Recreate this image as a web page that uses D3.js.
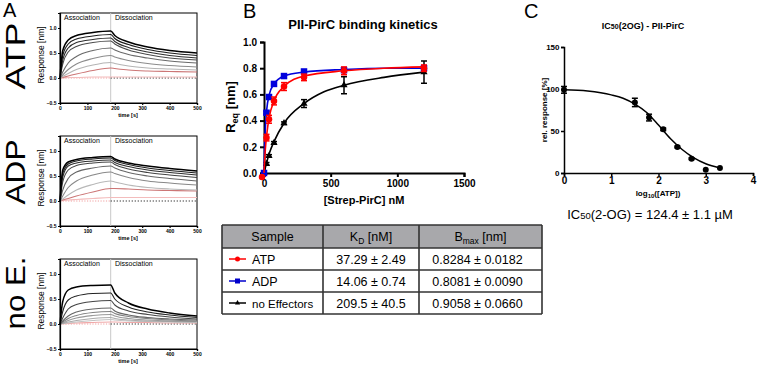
<!DOCTYPE html>
<html><head><meta charset="utf-8">
<script src="https://cdn.jsdelivr.net/npm/d3@7"></script>
<style>body{margin:0;background:#fff} svg text{font-family:"Liberation Sans",Arial,sans-serif}</style>
</head><body><svg id="c" width="757" height="365"></svg>
<script>
// ---------- DATA ----------
// Panel A: sensorgrams (response in nm at the sampled times)
const timesA = [0, 10, 30, 60, 120, 185, 200, 250, 320, 400, 500];
const atpCurves = [
  [0, 0.55, 0.76, 0.85, 0.91, 0.94, 0.85, 0.72, 0.62, 0.55, 0.50],
  [0, 0.45, 0.68, 0.78, 0.84, 0.87, 0.79, 0.67, 0.57, 0.50, 0.45],
  [0, 0.35, 0.60, 0.71, 0.77, 0.80, 0.73, 0.61, 0.52, 0.45, 0.40],
  [0, 0.28, 0.52, 0.63, 0.71, 0.74, 0.68, 0.56, 0.47, 0.40, 0.36],
  [0, 0.12, 0.30, 0.43, 0.55, 0.60, 0.56, 0.47, 0.40, 0.34, 0.30],
  [0, 0.06, 0.17, 0.28, 0.39, 0.45, 0.42, 0.35, 0.29, 0.25, 0.22],
  [0, 0.03, 0.09, 0.17, 0.26, 0.31, 0.29, 0.24, 0.20, 0.18, 0.16],
  [0, 0.01, 0.04, 0.08, 0.15, 0.20, 0.19, 0.16, 0.14, 0.13, 0.12],
  [0, 0.00, 0.01, 0.01, 0.02, 0.02, 0.02, 0.02, 0.02, 0.02, 0.02]
];
const adpCurves = [
  [0, 0.62, 0.78, 0.83, 0.87, 0.89, 0.84, 0.76, 0.70, 0.65, 0.60],
  [0, 0.55, 0.74, 0.80, 0.84, 0.86, 0.81, 0.73, 0.66, 0.61, 0.56],
  [0, 0.48, 0.70, 0.76, 0.80, 0.82, 0.77, 0.69, 0.62, 0.57, 0.52],
  [0, 0.38, 0.62, 0.71, 0.76, 0.78, 0.73, 0.64, 0.57, 0.52, 0.47],
  [0, 0.22, 0.45, 0.58, 0.66, 0.70, 0.66, 0.57, 0.50, 0.45, 0.40],
  [0, 0.10, 0.27, 0.40, 0.52, 0.58, 0.55, 0.47, 0.40, 0.36, 0.32],
  [0, 0.04, 0.12, 0.22, 0.33, 0.40, 0.38, 0.32, 0.27, 0.24, 0.22],
  [0, 0.02, 0.05, 0.10, 0.18, 0.25, 0.25, 0.24, 0.22, 0.21, 0.20],
  [0, 0.01, 0.02, 0.03, 0.05, 0.07, 0.07, 0.07, 0.07, 0.07, 0.07]
];
const noeCurves = [
  [0, 0.45, 0.68, 0.74, 0.77, 0.78, 0.62, 0.42, 0.30, 0.22, 0.16],
  [0, 0.25, 0.48, 0.56, 0.61, 0.62, 0.50, 0.34, 0.24, 0.18, 0.13],
  [0, 0.12, 0.30, 0.39, 0.45, 0.47, 0.38, 0.26, 0.19, 0.14, 0.10],
  [0, 0.06, 0.16, 0.24, 0.30, 0.32, 0.26, 0.18, 0.13, 0.10, 0.08],
  [0, 0.04, 0.11, 0.17, 0.23, 0.25, 0.21, 0.15, 0.11, 0.08, 0.06],
  [0, 0.02, 0.07, 0.12, 0.17, 0.19, 0.16, 0.11, 0.08, 0.06, 0.05],
  [0, 0.01, 0.04, 0.07, 0.11, 0.13, 0.11, 0.08, 0.06, 0.05, 0.04],
  [0, 0.01, 0.02, 0.04, 0.07, 0.09, 0.08, 0.06, 0.05, 0.04, 0.03],
  [0, 0.005, 0.01, 0.02, 0.03, 0.04, 0.04, 0.03, 0.03, 0.02, 0.02]
];
const atpColors = ["#000", "#1c1c1c", "#2e2e2e", "#4a4a4a", "#6a6a6a", "#8c8c8c", "#b4b4b4", "#cc7676", "#f3bcbc"];
const adpColors = ["#000", "#1c1c1c", "#2e2e2e", "#444", "#666", "#888", "#b8b8b8", "#cc7676", "#f3bcbc"];
const noeColors = ["#000", "#222", "#444", "#666", "#808080", "#999", "#aaa", "#c4c4c4", "#f0a8a8"];
const sensorLabels = ["ATP", "ADP", "no E."];
const sensorTicksX = [0, 100, 200, 300, 400, 500];
const sensorTicksY = [-0.5, 0.0, 0.5, 1.0];

// Panel B: equilibrium response
const concB = [0, 18.75, 37.5, 75, 150, 300, 600, 1200];
const adpReq = [0, 0.46, 0.58, 0.68, 0.74, 0.775, 0.785, 0.80];
const adpErr = [0, 0.01, 0.015, 0.015, 0.015, 0.012, 0.015, 0.02];
const atpReq = [-0.03, 0.27, 0.41, 0.55, 0.66, 0.73, 0.78, 0.80];
const atpErr = [0, 0.025, 0.03, 0.03, 0.03, 0.025, 0.03, 0.025];
const noeReq = [0, 0.07, 0.13, 0.23, 0.38, 0.53, 0.67, 0.77];
const noeErr = [0, 0.01, 0.01, 0.01, 0.01, 0.03, 0.065, 0.085];
// fitted curves
const fitAdpX = [0, 5, 10, 20, 40, 75, 150, 300, 600, 900, 1200];
const fitAdpY = [0, 0.21, 0.34, 0.48, 0.60, 0.68, 0.74, 0.77, 0.79, 0.80, 0.80];
const fitAtpX = [0, 5, 10, 20, 40, 75, 150, 300, 600, 900, 1200];
const fitAtpY = [0, 0.10, 0.18, 0.29, 0.43, 0.55, 0.66, 0.74, 0.78, 0.80, 0.81];
const fitNoeX = [0, 20, 40, 75, 150, 300, 450, 600, 900, 1200];
const fitNoeY = [0, 0.08, 0.15, 0.24, 0.38, 0.53, 0.62, 0.67, 0.73, 0.77];
const ticksBX = [0, 500, 1000, 1500];
const ticksBY = [0, 0.2, 0.4, 0.6, 0.8, 1.0];

// Table
const tableSamples = ["ATP", "ADP", "no Effectors"];
const tableKd = ["37.29 ± 2.49", "14.06 ± 0.74", "209.5 ± 40.5"];
const tableBmax = ["0.8284 ± 0.0182", "0.8081 ± 0.0090", "0.9058 ± 0.0660"];
const tableColors = ["#ff0000", "#0000cc", "#000000"];
const tableMarkers = ["circle", "square", "triangle"];

// Panel C: IC50
const logATP = [0, 1.5, 1.8, 2.1, 2.4, 2.7, 3.0, 3.3];
const relResp = [99, 84, 66, 52, 31, 17, 4, 6];
const relErr = [4, 5, 4, 1.5, 1, 1, 0, 0];
const fitCX = [0, 0.5, 1.0, 1.25, 1.5, 1.75, 2.0, 2.25, 2.5, 2.75, 3.0, 3.3];
const fitCY = [99, 97.5, 93, 89, 82, 72, 57, 41, 28, 18, 11, 6];
const ticksCX = [0, 1, 2, 3, 4];
const ticksCY = [0, 50, 100, 150];

// ---------- DRAW ----------
const svg = d3.select("#c");
svg.append("rect").attr("width", 757).attr("height", 365).attr("fill", "#fff");

function txt(x, y, s, size, opts = {}) {
  const t = svg.append("text").attr("x", x).attr("y", y).attr("font-size", size)
    .attr("text-anchor", opts.anchor || "start").attr("fill", opts.fill || "#000")
    .attr("font-weight", opts.bold ? "bold" : "normal").text(s);
  if (opts.rotate) t.attr("transform", `rotate(-90,${x},${y})`);
  return t;
}

// Panel letters
txt(3, 17, "A", 20);
txt(243, 18, "B", 20);
txt(524, 18, "C", 20);

// ---- Panel A ----
const sensorSets = [atpCurves, adpCurves, noeCurves];
const sensorColors = [atpColors, adpColors, noeColors];
const labelCenters = [56, 172, 293];
const labelLens = [67, 65, 73];
sensorSets.forEach((curves, k) => {
  const off = k * 123;
  const x = d3.scaleLinear().domain([0, 500]).range([60, 197]);
  const y = d3.scaleLinear().domain([-0.5, 1.3]).range([103 + off, 13 + off]);
  const g = svg.append("g");
  g.append("text").attr("x", 25).attr("y", labelCenters[k]).attr("font-size", 28)
    .attr("text-anchor", "middle").attr("textLength", labelLens[k]).attr("lengthAdjust", "spacingAndGlyphs")
    .attr("transform", `rotate(-90,25,${labelCenters[k]})`).text(sensorLabels[k]);
  g.append("rect").attr("x", x(0)).attr("y", y(1.3)).attr("width", x(500) - x(0)).attr("height", y(-0.5) - y(1.3))
    .attr("fill", "none").attr("stroke", "#000").attr("stroke-width", 1);
  g.append("line").attr("x1", x(185)).attr("x2", x(185)).attr("y1", y(1.3)).attr("y2", y(-0.5))
    .attr("stroke", "#c8c8c8").attr("stroke-width", 1);
  g.append("line").attr("x1", x(0)).attr("x2", x(185)).attr("y1", y(0)).attr("y2", y(0))
    .attr("stroke", "#f0a0a0").attr("stroke-width", 1).attr("stroke-dasharray", "1.2,1.5");
  g.append("line").attr("x1", x(185)).attr("x2", x(500)).attr("y1", y(0)).attr("y2", y(0))
    .attr("stroke", "#222").attr("stroke-width", 1).attr("stroke-dasharray", "1.2,1.8");
  const line = d3.line().x((d, i) => x(timesA[i])).y(d => y(d)).curve(d3.curveMonotoneX);
  curves.slice().reverse().forEach((c, ri) => {
    const i = curves.length - 1 - ri;
    g.append("path").attr("d", line(c)).attr("fill", "none")
      .attr("stroke", sensorColors[k][i]).attr("stroke-width", i === 0 ? 1.5 : 1.1);
  });
  const ax = g.append("g").attr("transform", `translate(0,${y(-0.5)})`)
    .call(d3.axisBottom(x).tickValues(sensorTicksX).tickSize(2).tickPadding(1.5));
  const ay = g.append("g").attr("transform", `translate(${x(0)},0)`)
    .call(d3.axisLeft(y).tickValues(sensorTicksY).tickFormat(d3.format(".1f")).tickSize(2).tickPadding(1.5));
  [ax, ay].forEach(a => {
    a.selectAll("text").attr("font-size", 5).attr("font-weight", "bold").attr("font-family", '"Liberation Sans",Arial,sans-serif');
    a.selectAll("path,line").attr("stroke", "#000").attr("stroke-width", 1.2);
  });
  g.append("text").attr("x", 128).attr("y", 117 + off).attr("font-size", 5.5).attr("font-weight", "bold")
    .attr("text-anchor", "middle").text("time [s]");
  g.append("text").attr("x", 44).attr("y", 55 + off).attr("font-size", 8.5).attr("text-anchor", "middle")
    .attr("transform", `rotate(-90,44,${55 + off})`).text("Response [nm]");
  g.append("text").attr("x", 64).attr("y", 20 + off).attr("font-size", 7).text("Association");
  g.append("text").attr("x", 115).attr("y", 20 + off).attr("font-size", 7).text("Dissociation");
});

// ---- Panel B ----
const xB = d3.scaleLinear().domain([0, 1500]).range([264, 464]);
const yB = d3.scaleLinear().domain([0, 1]).range([173, 42]);
txt(363, 29, "PII-PirC binding kinetics", 13, { anchor: "middle", bold: true });
const axB = svg.append("g").attr("transform", `translate(0,${yB(0)})`)
  .call(d3.axisBottom(xB).tickValues(ticksBX).tickFormat(d3.format("d")).tickSize(4).tickPadding(3));
const ayB = svg.append("g").attr("transform", `translate(${xB(0)},0)`)
  .call(d3.axisLeft(yB).tickValues(ticksBY).tickFormat(d3.format(".1f")).tickSize(4).tickPadding(3));
[axB, ayB].forEach(a => {
  a.selectAll("text").attr("font-size", 10).attr("font-weight", "bold").attr("font-family", '"Liberation Sans",Arial,sans-serif');
  a.selectAll("path,line").attr("stroke", "#000").attr("stroke-width", 2);
});
txt(364, 204, "[Strep-PirC] nM", 11, { anchor: "middle", bold: true });
{
  const t = svg.append("text").attr("x", 235).attr("y", 107).attr("font-size", 13).attr("font-weight", "bold")
    .attr("text-anchor", "middle").attr("transform", "rotate(-90,235,107)");
  t.append("tspan").text("R");
  t.append("tspan").attr("font-size", 9).attr("dy", 3).text("eq");
  t.append("tspan").attr("dy", -3).text(" [nm]");
}
function fitLine(xs, ys, color) {
  const l = d3.line().x((d, i) => xB(xs[i])).y(d => yB(d)).curve(d3.curveMonotoneX);
  svg.append("path").attr("d", l(ys)).attr("fill", "none").attr("stroke", color).attr("stroke-width", 1.6);
}
function errBars(vals, errs, color) {
  vals.forEach((v, i) => {
    if (!errs[i]) return;
    const cx = xB(concB[i]);
    const y1 = yB(v + errs[i]), y2 = yB(v - errs[i]);
    svg.append("line").attr("x1", cx).attr("x2", cx).attr("y1", y1).attr("y2", y2).attr("stroke", color).attr("stroke-width", 1.5);
    [y1, y2].forEach(yy => svg.append("line").attr("x1", cx - 3).attr("x2", cx + 3).attr("y1", yy).attr("y2", yy)
      .attr("stroke", color).attr("stroke-width", 1.5));
  });
}
function marker(g, type, cx, cy, color, s) {
  if (type === "circle") g.append("circle").attr("cx", cx).attr("cy", cy).attr("r", s / 2).attr("fill", color);
  else if (type === "square") g.append("rect").attr("x", cx - s / 2).attr("y", cy - s / 2).attr("width", s).attr("height", s).attr("fill", color);
  else g.append("path").attr("d", d3.symbol(d3.symbolTriangle, s * s * 0.45)()).attr("transform", `translate(${cx},${cy})`).attr("fill", color);
}
fitLine(fitNoeX, fitNoeY, "#000");
errBars(noeReq, noeErr, "#000");
noeReq.forEach((v, i) => marker(svg, "triangle", xB(concB[i]), yB(v), "#000", 7));
fitLine(fitAdpX, fitAdpY, "#0000dd");
errBars(adpReq, adpErr, "#0000dd");
adpReq.forEach((v, i) => marker(svg, "square", xB(concB[i]), yB(v), "#0000dd", 6.5));
fitLine(fitAtpX, fitAtpY, "#ff0000");
errBars(atpReq, atpErr, "#ff0000");
atpReq.forEach((v, i) => marker(svg, "circle", xB(concB[i]) - (i === 0 ? 2 : 0), yB(v), "#ff0000", 6.5));

// ---- Table ----
const colX = [222, 323, 419, 542];
const rowY = [225, 248, 270, 292, 314];
svg.append("rect").attr("x", colX[0]).attr("y", rowY[0]).attr("width", colX[3] - colX[0]).attr("height", rowY[1] - rowY[0]).attr("fill", "#a8a8ab");
rowY.forEach(yy => svg.append("line").attr("x1", colX[0]).attr("x2", colX[3]).attr("y1", yy).attr("y2", yy).attr("stroke", "#333").attr("stroke-width", 1.6));
colX.forEach(xx => svg.append("line").attr("x1", xx).attr("x2", xx).attr("y1", rowY[0]).attr("y2", rowY[4]).attr("stroke", "#333").attr("stroke-width", 1.6));
txt((colX[0] + colX[1]) / 2, 241, "Sample", 12.5, { anchor: "middle" });
{
  const t = svg.append("text").attr("x", (colX[1] + colX[2]) / 2).attr("y", 241).attr("font-size", 12.5).attr("text-anchor", "middle");
  t.append("tspan").text("K");
  t.append("tspan").attr("font-size", 8.5).attr("dy", 3).text("D");
  t.append("tspan").attr("dy", -3).text(" [nM]");
  const t2 = svg.append("text").attr("x", (colX[2] + colX[3]) / 2).attr("y", 241).attr("font-size", 12.5).attr("text-anchor", "middle");
  t2.append("tspan").text("B");
  t2.append("tspan").attr("font-size", 8.5).attr("dy", 3).text("max");
  t2.append("tspan").attr("dy", -3).text(" [nm]");
}
tableSamples.forEach((s, i) => {
  const cy = (rowY[i + 1] + rowY[i + 2]) / 2;
  svg.append("line").attr("x1", 229).attr("x2", 246).attr("y1", cy).attr("y2", cy).attr("stroke", tableColors[i]).attr("stroke-width", 1.5);
  marker(svg, tableMarkers[i], 237.5, cy, tableColors[i], 5);
  txt(252, cy + 4.5, s, i === 2 ? 11.5 : 12.5);
  txt((colX[1] + colX[2]) / 2, cy + 4.5, tableKd[i], 12.5, { anchor: "middle" });
  txt((colX[2] + colX[3]) / 2 - 3, cy + 4.5, tableBmax[i], 12.5, { anchor: "middle" });
});

// ---- Panel C ----
const xC = d3.scaleLinear().domain([0, 4]).range([564, 753]);
const yC = d3.scaleLinear().domain([0, 150]).range([173, 47]);
{
  const t = svg.append("text").attr("x", 643).attr("y", 29).attr("font-size", 9).attr("font-weight", "bold").attr("text-anchor", "middle");
  t.append("tspan").text("IC");
  t.append("tspan").attr("font-size", 7).text("50");
  t.append("tspan").text("(2OG) - PII-PirC");
}
const axC = svg.append("g").attr("transform", `translate(0,${yC(0)})`)
  .call(d3.axisBottom(xC).tickValues(ticksCX).tickFormat(d3.format("d")).tickSize(3).tickPadding(1));
const ayC = svg.append("g").attr("transform", `translate(${xC(0)},0)`)
  .call(d3.axisLeft(yC).tickValues(ticksCY).tickFormat(d3.format("d")).tickSize(3).tickPadding(1.5));
axC.selectAll("text").attr("font-size", 10).attr("font-weight", "bold").attr("font-family", '"Liberation Sans",Arial,sans-serif');
ayC.selectAll("text").attr("font-size", 8).attr("font-weight", "bold").attr("font-family", '"Liberation Sans",Arial,sans-serif');
[axC, ayC].forEach(a => a.selectAll("path,line").attr("stroke", "#000").attr("stroke-width", 1.5));
{
  const t = svg.append("text").attr("x", 658).attr("y", 196).attr("font-size", 8).attr("font-weight", "bold").attr("text-anchor", "middle");
  t.append("tspan").text("log");
  t.append("tspan").attr("font-size", 6).attr("dy", 2).text("10");
  t.append("tspan").attr("dy", -2).text("([ATP])");
  txt(547, 110, "rel. response [%]", 8, { anchor: "middle", bold: true, rotate: true });
}
{
  const l = d3.line().x((d, i) => xC(fitCX[i])).y(d => yC(d)).curve(d3.curveMonotoneX);
  svg.append("path").attr("d", l(fitCY)).attr("fill", "none").attr("stroke", "#000").attr("stroke-width", 1.5);
  relResp.forEach((v, i) => {
    const cx = xC(logATP[i]);
    if (relErr[i]) {
      const y1 = yC(v + relErr[i]), y2 = yC(v - relErr[i]);
      svg.append("line").attr("x1", cx).attr("x2", cx).attr("y1", y1).attr("y2", y2).attr("stroke", "#000").attr("stroke-width", 1.5);
      [y1, y2].forEach(yy => svg.append("line").attr("x1", cx - 3).attr("x2", cx + 3).attr("y1", yy).attr("y2", yy).attr("stroke", "#000").attr("stroke-width", 1.5));
    }
    svg.append("circle").attr("cx", cx).attr("cy", yC(v)).attr("r", 3).attr("fill", "#000");
  });
}
{
  const t = svg.append("text").attr("x", 650).attr("y", 219).attr("font-size", 13).attr("text-anchor", "middle");
  t.append("tspan").text("IC");
  t.append("tspan").attr("font-size", 9.5).text("50");
  t.append("tspan").text("(2-OG) = 124.4 ± 1.1 µM");
}
</script></body></html>
